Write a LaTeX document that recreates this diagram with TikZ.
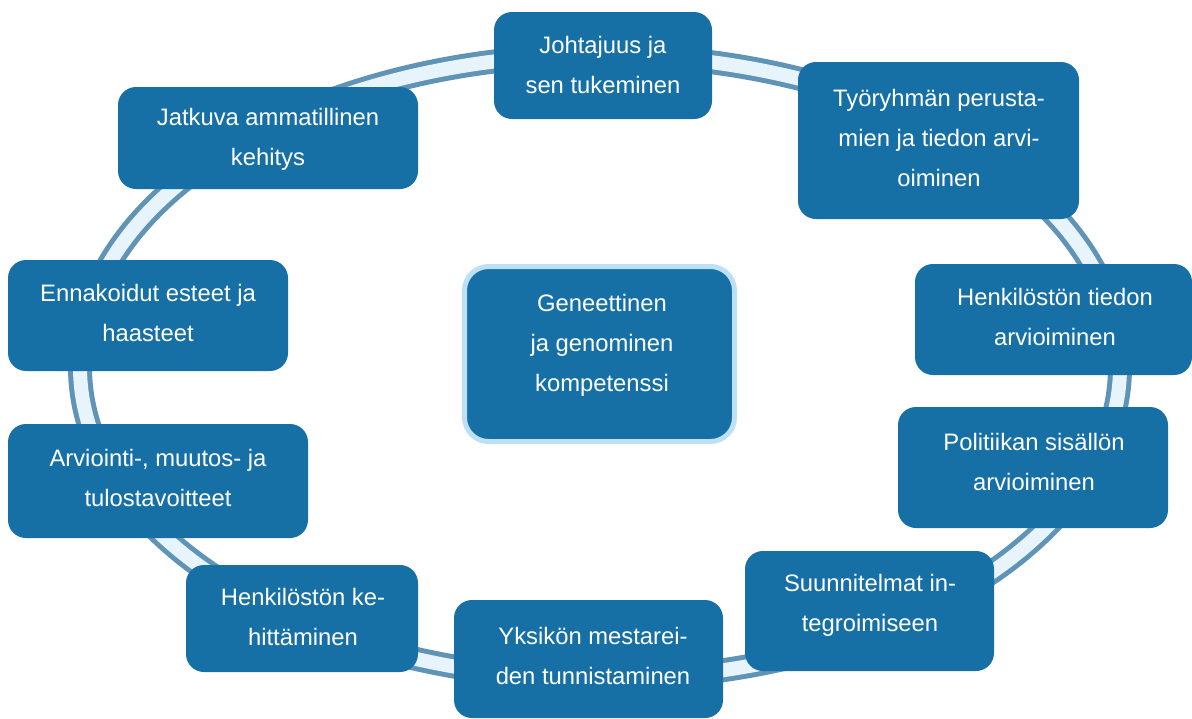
\documentclass[tikz,border=0pt]{standalone}
\usepackage{fontspec}
\setmainfont{Liberation Sans}
\definecolor{boxblue}{RGB}{22,112,166}
\definecolor{ringdark}{RGB}{96,148,182}
\definecolor{ringlight}{RGB}{232,244,251}
\definecolor{centerrim}{RGB}{189,224,245}
\tikzset{
  box/.style={fill=boxblue, draw=none, rounded corners=18pt, inner sep=0pt},
  centerbox/.style={fill=boxblue, draw=centerrim, line width=5pt, rounded corners=24pt, inner sep=0pt},
  txt/.style={text=white, align=center, inner sep=0pt, font=\fontsize{23.8}{40}\selectfont},
}
\begin{document}
\begin{tikzpicture}[x=1pt,y=-1pt]
\useasboundingbox (0,0) rectangle (1192,718);
% ring
\coordinate (rc) at (600,367);
\draw[ringdark, line width=24pt] (rc) ellipse [x radius=520pt, y radius=312pt];
\draw[ringlight, line width=14pt] (rc) ellipse [x radius=520pt, y radius=312pt];
% boxes
\node[box, minimum width=218pt, minimum height=107pt] (b1) at (603,65.5) {};
\node[box, minimum width=281pt, minimum height=157pt] (b2) at (938.5,140.5) {};
\node[box, minimum width=277pt, minimum height=111pt] (b3) at (1053.5,319.5) {};
\node[box, minimum width=270pt, minimum height=121pt] (b4) at (1033,467.5) {};
\node[box, minimum width=249pt, minimum height=120pt] (b5) at (869.5,611) {};
\node[box, minimum width=269pt, minimum height=118pt] (b6) at (588.5,659) {};
\node[box, minimum width=232pt, minimum height=107pt] (b7) at (302,618.5) {};
\node[box, minimum width=300pt, minimum height=114pt] (b8) at (158,481) {};
\node[box, minimum width=280pt, minimum height=111pt] (b9) at (148,315.5) {};
\node[box, minimum width=300pt, minimum height=102pt] (b10) at (268,138) {};
\node[centerbox, minimum width=270pt, minimum height=175pt] (c) at (599.5,354) {};
% texts
\node[txt] (t1) at (603,64.5) {Johtajuus ja\\sen tukeminen};
\node[txt] (t2) at (939,137.7) {Työryhmän perusta-\\mien ja tiedon arvi-\\oiminen};
\node[txt] (t3) at (1055,316.5) {Henkilöstön tiedon\\arvioiminen};
\node[txt] (t4) at (1034,461.5) {Politiikan sisällön\\arvioiminen};
\node[txt] (t5) at (870,605) {Suunnitelmat in-\\tegroimiseen};
\node[txt] (t6) at (593,655.5) {Yksikön mestarei-\\den tunnistaminen};
\node[txt] (t7) at (303,616.5) {Henkilöstön ke-\\hittäminen};
\node[txt] (t8) at (158,477.5) {Arviointi-, muutos- ja\\tulostavoitteet};
\node[txt] (t9) at (148,313) {Ennakoidut esteet ja\\haasteet};
\node[txt] (t10) at (268,139.5) {Jatkuva ammatillinen\\kehitys};
\node[txt] (tc) at (602,345.7) {Geneettinen\\ja genominen\\kompetenssi};
\end{tikzpicture}
\end{document}
